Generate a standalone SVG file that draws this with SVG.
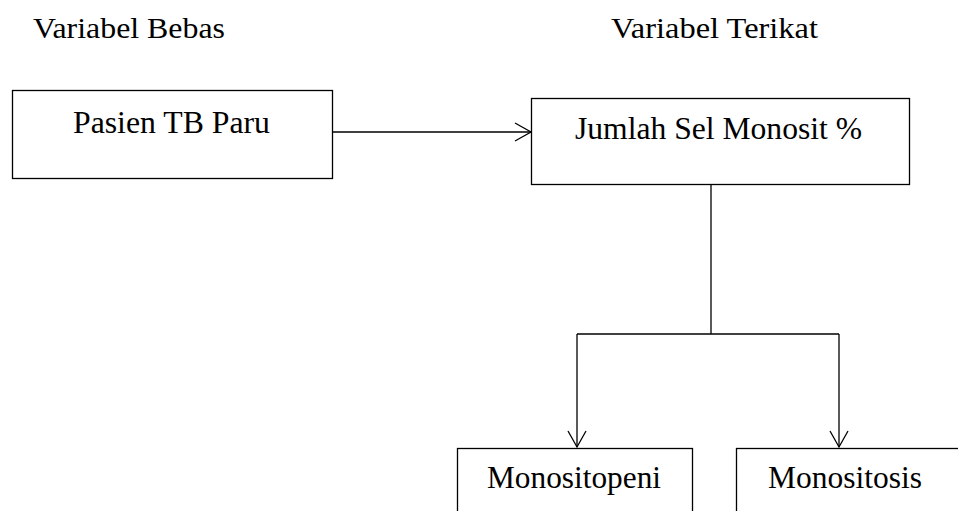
<svg xmlns="http://www.w3.org/2000/svg" width="958" height="511" viewBox="0 0 958 511">
<style>
  .box { fill: #ffffff; stroke: #000000; stroke-width: 1.3; }
  .t { font-family: "Liberation Serif", "Times New Roman", serif; font-size: 31px; fill: #000000; }
  .h { font-family: "Liberation Serif", "Times New Roman", serif; font-size: 29px; fill: #000000; }
  .c { fill: none; stroke: #000000; stroke-width: 1.3; }
</style>
<defs>
  <marker id="arr" viewBox="0 0 20 20" refX="18" refY="10" markerWidth="20" markerHeight="20" markerUnits="userSpaceOnUse" orient="auto">
    <path d="M2,1 L18,10 L2,19" fill="none" stroke="#000" stroke-width="1.3"/>
  </marker>
</defs>
<rect width="958" height="511" fill="#ffffff"/>
<g id="header">
  <text class="h" x="33" y="38" textLength="192" lengthAdjust="spacingAndGlyphs">Variabel Bebas</text>
  <text class="h" x="611" y="38" textLength="207" lengthAdjust="spacingAndGlyphs">Variabel Terikat</text>
</g>
<g id="connectors">
  <line class="c" x1="333" y1="132" x2="531" y2="132" marker-end="url(#arr)"/>
  <polyline class="c" points="711,184 711,334"/>
  <polyline class="c" points="577,334 839,334"/>
  <line class="c" x1="577" y1="334" x2="577" y2="447" marker-end="url(#arr)"/>
  <line class="c" x1="839" y1="334" x2="839" y2="447" marker-end="url(#arr)"/>
</g>
<g id="pasien">
  <rect class="box" x="12.5" y="90.5" width="320" height="88"/>
  <text class="t" x="73" y="133" textLength="197" lengthAdjust="spacingAndGlyphs">Pasien TB Paru</text>
</g>
<g id="jumlah">
  <rect class="box" x="531.5" y="98.5" width="378" height="86"/>
  <text class="t" x="575" y="139" textLength="287" lengthAdjust="spacingAndGlyphs">Jumlah Sel Monosit %</text>
</g>
<g id="monositopeni">
  <rect class="box" x="457.5" y="448.5" width="235" height="80"/>
  <text class="t" x="487" y="488" textLength="174" lengthAdjust="spacingAndGlyphs">Monositopeni</text>
</g>
<g id="monositosis">
  <rect class="box" x="736.5" y="448.5" width="240" height="80"/>
  <text class="t" x="768" y="488" textLength="154" lengthAdjust="spacingAndGlyphs">Monositosis</text>
</g>
</svg>
